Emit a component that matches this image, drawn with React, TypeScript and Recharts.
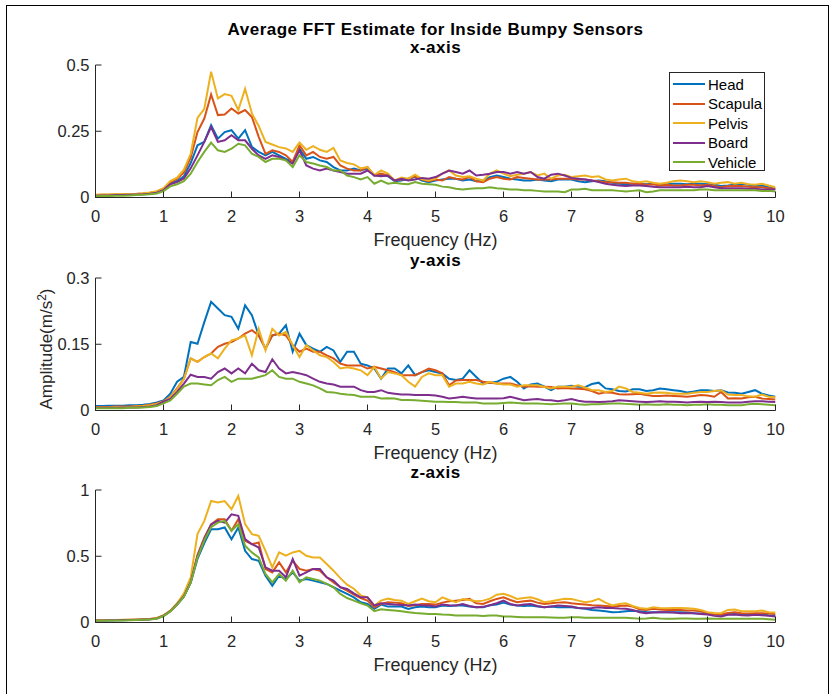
import { LineChart, Line, XAxis, YAxis, Legend } from 'recharts';

const freq = [
  0, 0.1, 0.2, 0.3, 0.4, 0.5, 0.6, 0.7, 0.8, 0.9,
  1, 1.1, 1.2, 1.3, 1.4, 1.5, 1.6, 1.7, 1.8, 1.9,
  2, 2.1, 2.2, 2.3, 2.4, 2.5, 2.6, 2.7, 2.8, 2.9,
  3, 3.1, 3.2, 3.3, 3.4, 3.5, 3.6, 3.7, 3.8, 3.9,
  4, 4.1, 4.2, 4.3, 4.4, 4.5, 4.6, 4.7, 4.8, 4.9,
  5, 5.1, 5.2, 5.3, 5.4, 5.5, 5.6, 5.7, 5.8, 5.9,
  6, 6.1, 6.2, 6.3, 6.4, 6.5, 6.6, 6.7, 6.8, 6.9,
  7, 7.1, 7.2, 7.3, 7.4, 7.5, 7.6, 7.7, 7.8, 7.9,
  8, 8.1, 8.2, 8.3, 8.4, 8.5, 8.6, 8.7, 8.8, 8.9,
  9, 9.1, 9.2, 9.3, 9.4, 9.5, 9.6, 9.7, 9.8, 9.9,
  10,
];

const sensors = ['Head', 'Scapula', 'Pelvis', 'Board', 'Vehicle'];
const colors = ['#0072BD', '#D95319', '#EDB120', '#7E2F8E', '#77AC30'];
const freqTicks = [0, 1, 2, 3, 4, 5, 6, 7, 8, 9, 10];

// ---- x-axis ----
const headX = [
  0.008, 0.009, 0.009, 0.010, 0.010, 0.011, 0.012, 0.013, 0.016, 0.020,
  0.030, 0.055, 0.062, 0.080, 0.130, 0.197, 0.210, 0.273, 0.222, 0.247,
  0.254, 0.222, 0.254, 0.191, 0.172, 0.159, 0.172, 0.159, 0.146, 0.134,
  0.184, 0.146, 0.153, 0.140, 0.134, 0.115, 0.102, 0.102, 0.109, 0.102,
  0.109, 0.083, 0.086, 0.080, 0.061, 0.064, 0.071, 0.077, 0.064, 0.058,
  0.064, 0.068, 0.071, 0.071, 0.064, 0.068, 0.061, 0.064, 0.077, 0.083,
  0.077, 0.071, 0.068, 0.064, 0.064, 0.068, 0.064, 0.061, 0.068, 0.068,
  0.068, 0.061, 0.058, 0.061, 0.064, 0.061, 0.056, 0.052, 0.050, 0.052,
  0.052, 0.050, 0.052, 0.048, 0.050, 0.052, 0.052, 0.050, 0.052, 0.052,
  0.050, 0.048, 0.043, 0.045, 0.048, 0.052, 0.048, 0.043, 0.045, 0.039,
  0.033,
];
const scapX = [
  0.009, 0.010, 0.010, 0.011, 0.011, 0.012, 0.013, 0.015, 0.018, 0.022,
  0.033, 0.058, 0.070, 0.095, 0.150, 0.247, 0.298, 0.389, 0.311, 0.313,
  0.336, 0.317, 0.330, 0.304, 0.229, 0.165, 0.178, 0.172, 0.159, 0.134,
  0.197, 0.159, 0.172, 0.153, 0.146, 0.153, 0.121, 0.109, 0.102, 0.102,
  0.115, 0.083, 0.090, 0.083, 0.064, 0.068, 0.071, 0.080, 0.068, 0.061,
  0.068, 0.064, 0.077, 0.071, 0.068, 0.077, 0.061, 0.058, 0.071, 0.077,
  0.071, 0.068, 0.077, 0.074, 0.071, 0.068, 0.068, 0.068, 0.071, 0.071,
  0.071, 0.068, 0.068, 0.064, 0.061, 0.058, 0.058, 0.056, 0.056, 0.052,
  0.052, 0.048, 0.050, 0.045, 0.048, 0.045, 0.045, 0.048, 0.048, 0.045,
  0.048, 0.043, 0.039, 0.043, 0.043, 0.043, 0.041, 0.039, 0.039, 0.035,
  0.033,
];
const pelvX = [
  0.010, 0.011, 0.011, 0.012, 0.012, 0.013, 0.014, 0.016, 0.019, 0.024,
  0.035, 0.062, 0.075, 0.105, 0.165, 0.300, 0.335, 0.475, 0.374, 0.390,
  0.384, 0.330, 0.410, 0.317, 0.270, 0.210, 0.200, 0.190, 0.185, 0.172,
  0.207, 0.180, 0.194, 0.180, 0.172, 0.187, 0.140, 0.130, 0.125, 0.110,
  0.115, 0.085, 0.102, 0.090, 0.064, 0.075, 0.071, 0.086, 0.070, 0.064,
  0.071, 0.090, 0.102, 0.083, 0.077, 0.080, 0.071, 0.064, 0.090, 0.102,
  0.090, 0.080, 0.086, 0.090, 0.096, 0.083, 0.090, 0.071, 0.083, 0.086,
  0.077, 0.080, 0.083, 0.077, 0.080, 0.068, 0.064, 0.068, 0.071, 0.061,
  0.058, 0.061, 0.056, 0.052, 0.056, 0.061, 0.064, 0.061, 0.058, 0.061,
  0.058, 0.052, 0.056, 0.058, 0.052, 0.056, 0.050, 0.048, 0.052, 0.045,
  0.039,
];
const boardX = [
  0.007, 0.008, 0.008, 0.009, 0.009, 0.010, 0.011, 0.012, 0.014, 0.018,
  0.028, 0.050, 0.058, 0.072, 0.110, 0.159, 0.210, 0.266, 0.210, 0.216,
  0.235, 0.216, 0.216, 0.184, 0.159, 0.146, 0.159, 0.153, 0.140, 0.128,
  0.178, 0.121, 0.109, 0.102, 0.109, 0.102, 0.096, 0.090, 0.090, 0.090,
  0.102, 0.083, 0.080, 0.083, 0.064, 0.071, 0.064, 0.068, 0.074, 0.071,
  0.077, 0.090, 0.102, 0.096, 0.090, 0.102, 0.083, 0.086, 0.090, 0.096,
  0.096, 0.090, 0.096, 0.090, 0.096, 0.077, 0.071, 0.086, 0.090, 0.083,
  0.074, 0.071, 0.068, 0.064, 0.058, 0.052, 0.048, 0.045, 0.043, 0.045,
  0.045, 0.043, 0.041, 0.039, 0.039, 0.039, 0.039, 0.041, 0.039, 0.039,
  0.043, 0.039, 0.035, 0.035, 0.035, 0.035, 0.033, 0.033, 0.030, 0.030,
  0.030,
];
const vehX = [
  0.005, 0.006, 0.006, 0.007, 0.007, 0.008, 0.009, 0.010, 0.012, 0.015,
  0.024, 0.042, 0.050, 0.062, 0.090, 0.134, 0.172, 0.207, 0.178, 0.172,
  0.184, 0.203, 0.197, 0.165, 0.153, 0.134, 0.146, 0.146, 0.140, 0.115,
  0.159, 0.134, 0.128, 0.121, 0.115, 0.102, 0.102, 0.083, 0.077, 0.068,
  0.077, 0.052, 0.064, 0.052, 0.056, 0.052, 0.050, 0.058, 0.052, 0.050,
  0.048, 0.041, 0.039, 0.033, 0.030, 0.033, 0.035, 0.035, 0.039, 0.035,
  0.033, 0.030, 0.030, 0.027, 0.027, 0.025, 0.023, 0.023, 0.023, 0.020,
  0.030, 0.030, 0.033, 0.027, 0.027, 0.027, 0.027, 0.025, 0.023, 0.025,
  0.027, 0.020, 0.023, 0.027, 0.027, 0.027, 0.027, 0.027, 0.027, 0.030,
  0.030, 0.027, 0.027, 0.027, 0.027, 0.027, 0.027, 0.027, 0.025, 0.025,
  0.023,
];

// ---- y-axis ----
const headY = [
  0.010, 0.010, 0.011, 0.011, 0.011, 0.012, 0.012, 0.013, 0.015, 0.018,
  0.023, 0.038, 0.065, 0.076, 0.155, 0.151, 0.200, 0.246, 0.231, 0.216,
  0.212, 0.185, 0.238, 0.216, 0.170, 0.140, 0.170, 0.174, 0.193, 0.133,
  0.174, 0.148, 0.140, 0.133, 0.144, 0.136, 0.110, 0.133, 0.133, 0.106,
  0.102, 0.095, 0.072, 0.095, 0.095, 0.084, 0.102, 0.080, 0.087, 0.091,
  0.087, 0.084, 0.072, 0.069, 0.072, 0.091, 0.076, 0.061, 0.063, 0.065,
  0.072, 0.076, 0.065, 0.050, 0.059, 0.061, 0.054, 0.046, 0.054, 0.054,
  0.056, 0.054, 0.053, 0.060, 0.063, 0.050, 0.048, 0.044, 0.043, 0.048,
  0.048, 0.044, 0.046, 0.050, 0.048, 0.046, 0.044, 0.041, 0.043, 0.046,
  0.046, 0.044, 0.046, 0.041, 0.040, 0.038, 0.042, 0.046, 0.038, 0.034,
  0.031,
];
const scapY = [
  0.008, 0.008, 0.008, 0.009, 0.009, 0.009, 0.010, 0.011, 0.013, 0.016,
  0.021, 0.031, 0.050, 0.072, 0.118, 0.110, 0.121, 0.129, 0.144, 0.151,
  0.155, 0.163, 0.174, 0.182, 0.170, 0.140, 0.170, 0.174, 0.170, 0.148,
  0.133, 0.140, 0.133, 0.133, 0.125, 0.118, 0.106, 0.102, 0.102, 0.102,
  0.095, 0.099, 0.095, 0.091, 0.087, 0.080, 0.080, 0.080, 0.087, 0.095,
  0.091, 0.084, 0.057, 0.068, 0.069, 0.069, 0.069, 0.065, 0.063, 0.061,
  0.061, 0.061, 0.057, 0.054, 0.055, 0.054, 0.054, 0.053, 0.050, 0.051,
  0.050, 0.049, 0.048, 0.044, 0.038, 0.041, 0.040, 0.037, 0.036, 0.037,
  0.038, 0.035, 0.033, 0.033, 0.034, 0.033, 0.032, 0.031, 0.033, 0.035,
  0.034, 0.031, 0.042, 0.027, 0.028, 0.027, 0.030, 0.031, 0.027, 0.026,
  0.025,
];
const pelvY = [
  0.007, 0.007, 0.007, 0.008, 0.008, 0.008, 0.009, 0.010, 0.012, 0.015,
  0.020, 0.030, 0.048, 0.072, 0.118, 0.110, 0.121, 0.129, 0.118, 0.140,
  0.159, 0.163, 0.170, 0.125, 0.185, 0.136, 0.185, 0.170, 0.178, 0.148,
  0.121, 0.148, 0.136, 0.125, 0.121, 0.110, 0.095, 0.098, 0.095, 0.091,
  0.080, 0.099, 0.072, 0.087, 0.084, 0.080, 0.065, 0.054, 0.076, 0.084,
  0.080, 0.080, 0.054, 0.061, 0.061, 0.065, 0.061, 0.059, 0.065, 0.061,
  0.059, 0.059, 0.054, 0.057, 0.057, 0.057, 0.053, 0.050, 0.054, 0.054,
  0.054, 0.057, 0.052, 0.046, 0.046, 0.042, 0.044, 0.054, 0.050, 0.042,
  0.040, 0.038, 0.040, 0.041, 0.040, 0.038, 0.038, 0.038, 0.040, 0.042,
  0.042, 0.044, 0.046, 0.036, 0.035, 0.035, 0.032, 0.031, 0.036, 0.031,
  0.030,
];
const boardY = [
  0.006, 0.006, 0.006, 0.006, 0.007, 0.007, 0.007, 0.008, 0.009, 0.012,
  0.020, 0.026, 0.042, 0.061, 0.081, 0.076, 0.076, 0.072, 0.087, 0.095,
  0.084, 0.095, 0.084, 0.106, 0.091, 0.087, 0.116, 0.095, 0.084, 0.087,
  0.084, 0.080, 0.072, 0.065, 0.061, 0.059, 0.054, 0.054, 0.054, 0.046,
  0.042, 0.042, 0.046, 0.040, 0.038, 0.036, 0.036, 0.035, 0.035, 0.035,
  0.034, 0.031, 0.027, 0.029, 0.031, 0.029, 0.027, 0.027, 0.027, 0.027,
  0.028, 0.031, 0.027, 0.023, 0.025, 0.026, 0.024, 0.023, 0.021, 0.023,
  0.026, 0.022, 0.020, 0.020, 0.019, 0.020, 0.021, 0.023, 0.022, 0.021,
  0.020, 0.019, 0.020, 0.021, 0.020, 0.020, 0.019, 0.018, 0.019, 0.020,
  0.019, 0.020, 0.019, 0.018, 0.018, 0.018, 0.020, 0.021, 0.021, 0.020,
  0.019,
];
const vehY = [
  0.005, 0.005, 0.005, 0.005, 0.005, 0.006, 0.006, 0.007, 0.008, 0.010,
  0.016, 0.023, 0.038, 0.054, 0.061, 0.061, 0.059, 0.057, 0.069, 0.076,
  0.065, 0.072, 0.072, 0.072, 0.076, 0.080, 0.091, 0.076, 0.072, 0.072,
  0.065, 0.061, 0.057, 0.050, 0.042, 0.041, 0.038, 0.036, 0.035, 0.031,
  0.031, 0.031, 0.027, 0.028, 0.027, 0.024, 0.024, 0.023, 0.022, 0.021,
  0.020, 0.020, 0.019, 0.019, 0.018, 0.018, 0.018, 0.016, 0.016, 0.016,
  0.017, 0.018, 0.017, 0.016, 0.016, 0.016, 0.015, 0.014, 0.015, 0.016,
  0.016, 0.014, 0.013, 0.014, 0.014, 0.015, 0.016, 0.016, 0.015, 0.014,
  0.013, 0.014, 0.013, 0.013, 0.014, 0.013, 0.013, 0.012, 0.013, 0.013,
  0.014, 0.013, 0.013, 0.012, 0.012, 0.012, 0.014, 0.015, 0.014, 0.013,
  0.012,
];

// ---- z-axis ----
const headZ = [
  0.015, 0.016, 0.016, 0.017, 0.017, 0.018, 0.019, 0.021, 0.024, 0.030,
  0.050, 0.085, 0.135, 0.195, 0.300, 0.480, 0.600, 0.704, 0.704, 0.717,
  0.629, 0.717, 0.541, 0.479, 0.466, 0.353, 0.278, 0.353, 0.328, 0.378,
  0.316, 0.328, 0.316, 0.303, 0.291, 0.266, 0.241, 0.216, 0.190, 0.153,
  0.140, 0.103, 0.135, 0.120, 0.120, 0.120, 0.103, 0.115, 0.120, 0.115,
  0.115, 0.128, 0.125, 0.128, 0.128, 0.120, 0.115, 0.115, 0.130, 0.135,
  0.150, 0.135, 0.128, 0.125, 0.128, 0.120, 0.115, 0.120, 0.115, 0.115,
  0.115, 0.110, 0.103, 0.095, 0.090, 0.085, 0.078, 0.080, 0.085, 0.088,
  0.085, 0.080, 0.078, 0.078, 0.078, 0.078, 0.078, 0.075, 0.070, 0.068,
  0.065, 0.060, 0.058, 0.062, 0.065, 0.060, 0.058, 0.060, 0.060, 0.055,
  0.053,
];
const scapZ = [
  0.017, 0.017, 0.018, 0.018, 0.019, 0.020, 0.021, 0.023, 0.026, 0.032,
  0.052, 0.088, 0.140, 0.200, 0.310, 0.510, 0.640, 0.740, 0.779, 0.779,
  0.692, 0.779, 0.617, 0.591, 0.604, 0.404, 0.378, 0.454, 0.378, 0.466,
  0.404, 0.391, 0.404, 0.391, 0.341, 0.303, 0.266, 0.241, 0.210, 0.185,
  0.165, 0.115, 0.140, 0.153, 0.150, 0.145, 0.125, 0.130, 0.140, 0.140,
  0.135, 0.150, 0.160, 0.165, 0.170, 0.178, 0.145, 0.140, 0.160, 0.178,
  0.190, 0.170, 0.153, 0.160, 0.165, 0.150, 0.140, 0.145, 0.150, 0.153,
  0.145, 0.140, 0.135, 0.130, 0.128, 0.125, 0.120, 0.125, 0.128, 0.120,
  0.100, 0.095, 0.103, 0.098, 0.095, 0.095, 0.095, 0.090, 0.090, 0.085,
  0.070, 0.065, 0.060, 0.072, 0.078, 0.070, 0.068, 0.070, 0.070, 0.068,
  0.065,
];
const pelvZ = [
  0.018, 0.018, 0.019, 0.019, 0.020, 0.021, 0.022, 0.024, 0.027, 0.034,
  0.055, 0.090, 0.145, 0.220, 0.341, 0.667, 0.767, 0.917, 0.905, 0.917,
  0.855, 0.955, 0.742, 0.667, 0.654, 0.541, 0.416, 0.529, 0.504, 0.529,
  0.541, 0.504, 0.491, 0.491, 0.441, 0.391, 0.335, 0.285, 0.255, 0.205,
  0.190, 0.128, 0.165, 0.180, 0.170, 0.165, 0.140, 0.160, 0.180, 0.160,
  0.153, 0.190, 0.170, 0.153, 0.178, 0.170, 0.160, 0.165, 0.180, 0.210,
  0.216, 0.200, 0.178, 0.185, 0.190, 0.175, 0.153, 0.160, 0.170, 0.180,
  0.178, 0.165, 0.153, 0.160, 0.178, 0.150, 0.128, 0.140, 0.145, 0.125,
  0.110, 0.103, 0.115, 0.110, 0.108, 0.110, 0.110, 0.108, 0.103, 0.095,
  0.078, 0.072, 0.070, 0.095, 0.098, 0.085, 0.085, 0.085, 0.090, 0.078,
  0.075,
];
const boardZ = [
  0.016, 0.016, 0.017, 0.017, 0.018, 0.019, 0.020, 0.022, 0.025, 0.031,
  0.051, 0.086, 0.138, 0.198, 0.305, 0.500, 0.630, 0.740, 0.767, 0.754,
  0.817, 0.805, 0.629, 0.591, 0.566, 0.416, 0.391, 0.391, 0.341, 0.479,
  0.353, 0.378, 0.404, 0.404, 0.341, 0.316, 0.266, 0.253, 0.220, 0.190,
  0.190, 0.128, 0.145, 0.140, 0.135, 0.133, 0.128, 0.135, 0.130, 0.128,
  0.120, 0.135, 0.130, 0.128, 0.140, 0.125, 0.115, 0.118, 0.130, 0.145,
  0.165, 0.140, 0.128, 0.135, 0.140, 0.125, 0.115, 0.120, 0.128, 0.125,
  0.120, 0.110, 0.108, 0.110, 0.115, 0.110, 0.110, 0.105, 0.103, 0.095,
  0.078, 0.070, 0.075, 0.078, 0.078, 0.075, 0.070, 0.070, 0.070, 0.065,
  0.060, 0.050, 0.045, 0.058, 0.060, 0.055, 0.053, 0.058, 0.055, 0.050,
  0.045,
];
const vehZ = [
  0.014, 0.014, 0.015, 0.015, 0.016, 0.017, 0.018, 0.020, 0.023, 0.029,
  0.049, 0.084, 0.135, 0.195, 0.300, 0.490, 0.620, 0.720, 0.754, 0.767,
  0.692, 0.742, 0.579, 0.529, 0.491, 0.366, 0.303, 0.366, 0.316, 0.391,
  0.303, 0.341, 0.328, 0.316, 0.291, 0.266, 0.216, 0.185, 0.165, 0.145,
  0.128, 0.085, 0.100, 0.095, 0.090, 0.085, 0.078, 0.072, 0.068, 0.065,
  0.065, 0.060, 0.058, 0.053, 0.053, 0.053, 0.053, 0.050, 0.053, 0.053,
  0.045, 0.045, 0.042, 0.040, 0.040, 0.040, 0.040, 0.038, 0.035, 0.035,
  0.040, 0.040, 0.035, 0.035, 0.035, 0.035, 0.035, 0.035, 0.035, 0.033,
  0.028, 0.030, 0.035, 0.030, 0.028, 0.028, 0.030, 0.030, 0.028, 0.028,
  0.030, 0.028, 0.028, 0.028, 0.028, 0.028, 0.028, 0.028, 0.028, 0.025,
  0.020,
];

const AX = '#262626';
const FONT = '"Liberation Sans", Arial, Helvetica, sans-serif';
const TICK_LEN = 6;

function buildRows(series: number[][]) {
  return freq.map((f, i) => {
    const row: any = { f };
    sensors.forEach((s, k) => {
      row[s] = series[k][i];
    });
    return row;
  });
}

function XTick(props: any) {
  const { x, y, payload } = props;
  return (
    <g>
      <line x1={x} y1={y} x2={x} y2={y - TICK_LEN} stroke={AX} strokeWidth={1} />
      <text x={x} y={y + 24} textAnchor="middle" fontSize={16.5} fill={AX}>
        {payload.value}
      </text>
    </g>
  );
}

function YTick(props: any) {
  const { x, y, payload } = props;
  return (
    <g>
      <line x1={x} y1={y} x2={x + TICK_LEN} y2={y} stroke={AX} strokeWidth={1} />
      <text x={x - 6} y={y} dy="0.36em" textAnchor="end" fontSize={16.5} fill={AX}>
        {payload.value}
      </text>
    </g>
  );
}

function FreqLabel(props: any) {
  const vb = props.viewBox;
  return (
    <text x={vb.x + vb.width / 2} y={vb.y + 48} textAnchor="middle" fontSize={18} fill={AX}>
      Frequency (Hz)
    </text>
  );
}

function LegendBox(props: any) {
  const items = [...(props.payload || [])].sort(
    (a: any, b: any) => sensors.indexOf(a.value) - sensors.indexOf(b.value),
  );
  return (
    <div
      style={{
        width: 96,
        height: 99,
        boxSizing: 'border-box',
        border: `1px solid ${AX}`,
        background: '#fff',
        padding: '2px 0 0 3px',
      }}
    >
      {items.map((it: any) => (
        <div key={it.value} style={{ display: 'flex', alignItems: 'center', height: 19.5 }}>
          <span style={{ display: 'inline-block', width: 32, height: 2, background: it.color, marginRight: 3 }} />
          <span style={{ fontSize: 15, color: '#000', lineHeight: '19px' }}>{it.value}</span>
        </div>
      ))}
    </div>
  );
}

function Panel({ top, series, yMax, yTicks, withLegend }: any) {
  const rows = buildRows(series);
  return (
    <div style={{ position: 'absolute', left: 0, top: top - 10, width: 831, height: 198 }}>
      <LineChart
        width={831}
        height={198}
        data={rows}
        margin={{ top: 10, right: 55.5, bottom: 25.5, left: 35.5 }}
      >
        <XAxis
          dataKey="f"
          type="number"
          domain={[0, 10]}
          ticks={freqTicks}
          height={30}
          tickSize={0}
          tickMargin={0}
          tickLine={false}
          axisLine={{ stroke: AX }}
          tick={<XTick />}
          label={<FreqLabel />}
          allowDataOverflow
        />
        <YAxis
          type="number"
          domain={[0, yMax]}
          ticks={yTicks}
          width={60}
          tickSize={0}
          tickMargin={0}
          tickLine={false}
          axisLine={{ stroke: AX }}
          tick={<YTick />}
          allowDataOverflow
        />
        {withLegend && (
          <Legend
            layout="vertical"
            align="center"
            verticalAlign="middle"
            content={<LegendBox />}
            wrapperStyle={{ left: 669, top: 17, width: 96, height: 99 }}
          />
        )}
        {sensors.map((s, k) => (
          <Line
            key={s}
            type="linear"
            dataKey={s}
            stroke={colors[k]}
            strokeWidth={2}
            dot={false}
            isAnimationActive={false}
          />
        ))}
      </LineChart>
    </div>
  );
}

export default function App() {
  return (
    <div
      style={{
        position: 'absolute',
        left: 0,
        top: 0,
        width: 831,
        height: 694,
        background: '#fff',
        fontFamily: FONT,
        overflow: 'hidden',
      }}
    >
      <div
        style={{
          position: 'absolute',
          left: 6,
          top: 5,
          width: 823,
          height: 720,
          border: '1px solid #000',
          boxSizing: 'border-box',
        }}
      />
      <Panel top={64.5} series={[headX, scapX, pelvX, boardX, vehX]} yMax={0.5} yTicks={[0, 0.25, 0.5]} withLegend />
      <Panel top={277.5} series={[headY, scapY, pelvY, boardY, vehY]} yMax={0.3} yTicks={[0, 0.15, 0.3]} />
      <Panel top={489.5} series={[headZ, scapZ, pelvZ, boardZ, vehZ]} yMax={1} yTicks={[0, 0.5, 1]} />
      <svg
        width={831}
        height={694}
        style={{ position: 'absolute', left: 0, top: 0, pointerEvents: 'none' }}
      >
        <g fontFamily={FONT} fontWeight="bold" fill="#000" textAnchor="middle" fontSize={17} letterSpacing={0.5}>
          <text x={435.5} y={35}>Average FFT Estimate for Inside Bumpy Sensors</text>
          <text x={435.5} y={53}>x-axis</text>
          <text x={435.5} y={265.5}>y-axis</text>
          <text x={435.5} y={477.5}>z-axis</text>
        </g>
        <text
          x={52}
          y={349}
          transform="rotate(-90 52 349)"
          textAnchor="middle"
          fontFamily={FONT}
          fontSize={17}
          fill={AX}
        >
          Amplitude(m/s<tspan dy={-6} fontSize={12}>2</tspan>
          <tspan dy={6}>)</tspan>
        </text>
      </svg>
    </div>
  );
}
